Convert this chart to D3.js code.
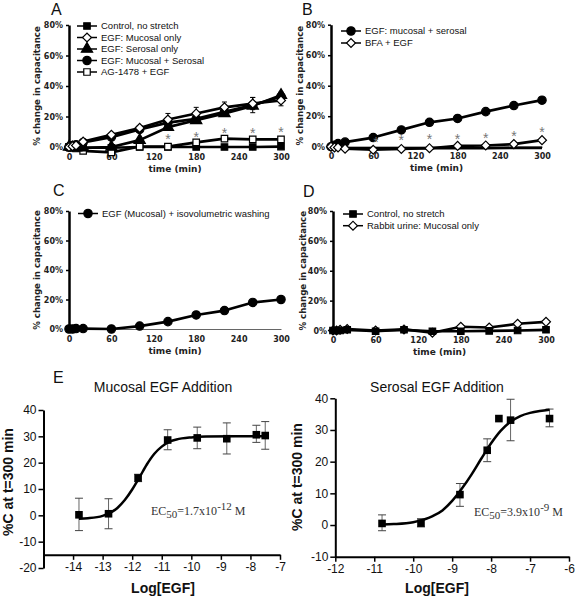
<!DOCTYPE html>
<html>
<head>
<meta charset="utf-8">
<script src="https://cdn.jsdelivr.net/npm/d3@7"></script>
<style>
  body { margin: 0; background: #fff; }
  svg { display: block; }
</style>
</head>
<body>
<script>
// ---------- DATA ----------
const times = [0, 5, 10, 20, 60, 100, 140, 180, 220, 260, 300];
const timeTicks = [0, 60, 120, 180, 240, 300];
const pctTicks = [0, 20, 40, 60, 80];

// Panel A
const aControl   = [0, 0, -0.5, -0.5, -0.5, 0, 0, 0, 0, 0, 0.3];
const aMucosal   = [0, 0.5, 1, 3.5, 8, 12.5, 18, 22, 26, 28.5, 30.5];
const aMucosalErr= [0, 0, 0, 0, 1, 1.5, 4, 4, 3.5, 4, 3.5];
const aSerosal   = [0, -0.5, -0.5, -0.5, 0, 4.5, 13, 17.5, 22, 27, 34];
const aSerosalErr= [0, 0, 0, 0, 0.5, 1, 1, 1, 1, 1.5, 2];
const aBoth      = [0, 1, 1.5, 3, 6.5, 11.5, 16, 18.5, 23, 27.5, 33];
const aBothErr   = [0, 0, 0, 0, 0.5, 1, 1, 1, 1.5, 5, 2];
const aAG        = [0, -0.5, -1, -2.5, -3.5, 0.3, 0.3, 3, 5.5, 5, 5];
const aStarTimes = [140, 180, 220, 260, 300];
const aStarVals  = [7, 8, 10.5, 10.5, 11.5];

// Panel B
const bBoth      = [0, 1, 2, 3, 6, 11, 16, 18.5, 23, 27, 30.5];
const bBothErr   = [0, 0, 0, 0, 1, 1, 1, 1, 1, 1.5, 2];
const bBFA       = [0, -0.5, -0.5, -1.3, -2, -1.5, -1, 0.5, 0.8, 1.7, 4.3];
const bBFAErr    = [0, 0, 0, 0, 0, 0, 0, 0, 0, 0, 1];
const bBase      = [0, -0.5, -0.8, -1, -1, -1, -1, -1, -1, -0.8, -0.8];
const bStarTimes = [64, 100, 140, 180, 220, 260, 300];
const bStarVals  = [4.5, 6, 6.5, 6.5, 7.5, 8.5, 11];

// Panel C
const cWash      = [0, 0, 0.3, 0.3, 0, 2, 5, 9.5, 12.5, 18, 20];
const cWashErr   = [0, 0, 0, 0, 0, 0.5, 0.5, 0.5, 0.8, 1, 1.5];

// Panel D
const dControl   = [0, 0, 0, 0.5, -0.5, 0.5, -0.5, -0.5, -0.3, 0, 0.5];
const dUrine     = [0, 0, 0.5, 1, 0, 0.7, -1.5, 2.5, 2, 4.5, 5.8];
const dUrineErr  = [0, 0, 0, 0, 1.5, 0.5, 0.5, 0.5, 0.5, 0.5, 0.5];

// Panel E (mucosal)
const eMucX   = [-13.8, -12.8, -11.8, -10.8, -9.8, -8.8, -7.8, -7.5];
const eMucY   = [0.2, 0.6, 14.2, 28.6, 29.4, 29.1, 30.6, 30.3];
const eMucLo  = [-5.8, -5.1, 12.8, 24.9, 25.3, 23.3, 27.7, 25.1];
const eMucHi  = [6.5, 6.3, 15.6, 32.5, 33.5, 35.1, 34.2, 35.6];
const eMucFitX = [-13.8, -13.5, -13, -12.5, -12.25, -12, -11.75, -11.5, -11.25, -11, -10.75, -10.5, -10, -9.5, -8.5, -7.5];
const eMucFitY = [-1.3, -1.1, -0.2, 2.8, 5.8, 9.8, 14.5, 19.4, 23.4, 26.1, 27.9, 28.8, 29.6, 29.9, 30, 30];
const eMucXTicks = [-14, -13, -12, -11, -10, -9, -8, -7];
const eMucYTicks = [-20, -10, 0, 10, 20, 30, 40];

// Panel E (serosal)
const eSerX   = [-10.8, -9.8, -8.8, -8.1, -7.8, -7.5, -6.5];
const eSerY   = [0.5, 0.6, 9.6, 23.6, 33.6, 33.1, 33.6];
const eSerLo  = [-1.8, -0.6, 5.9, 20.0, 33.6, 26.6, 31.0];
const eSerHi  = [3.2, 2.0, 13.1, 27.2, 33.6, 39.7, 36.6];
const eSerFitX = [-10.8, -10.5, -10, -9.5, -9.25, -9, -8.75, -8.5, -8.25, -8, -7.75, -7.5, -7.25, -7, -6.75, -6.5];
const eSerFitY = [0.15, 0.3, 0.9, 2.8, 4.6, 7.6, 11.5, 16.0, 21.0, 25.8, 29.8, 32.6, 34.4, 35.4, 36.0, 36.4];
const eSerXTicks = [-12, -11, -10, -9, -8, -7, -6];
const eSerYTicks = [-10, 0, 10, 20, 30, 40];

// ---------- DRAWING ----------
const svg = d3.select("body").append("svg").attr("width", 576).attr("height", 596);
const SANS = "'Liberation Sans', Arial, sans-serif";
const DJV = "'DejaVu Sans', Verdana, sans-serif";

function marker(g, type, cx, cy) {
  let sym, size, rot = 0, fill = "#000";
  if (type === "square") { sym = d3.symbolSquare; size = 42; }
  else if (type === "osquare") { sym = d3.symbolSquare; size = 42; fill = "#fff"; }
  else if (type === "circle") { sym = d3.symbolCircle; size = 55; }
  else if (type === "triangle") { sym = d3.symbolTriangle; size = 55; }
  else if (type === "diamond") { sym = d3.symbolSquare; size = 40; rot = 45; fill = "#fff"; }
  g.append("path")
    .attr("d", d3.symbol().type(sym).size(size)())
    .attr("transform", `translate(${cx},${cy}) rotate(${rot})`)
    .attr("fill", fill).attr("stroke", "#000").attr("stroke-width", 1.2);
}

function letter(txt, x, y) {
  svg.append("text").attr("x", x).attr("y", y).text(txt)
    .attr("font-family", SANS).attr("font-size", 16).attr("fill", "#111");
}

function timePanel(cfg) {
  const x = d3.scaleLinear().domain([0, 300]).range(cfg.xr);
  const y = d3.scaleLinear().domain([0, 80]).range(cfg.yr);
  const g = svg.append("g");

  // x axis
  const xa = g.append("g").attr("transform", `translate(0,${y(0)})`)
    .call(d3.axisBottom(x).tickValues(timeTicks).tickSize(0).tickSizeOuter(0).tickPadding(7));
  xa.select(".domain").attr("stroke", cfg.xAxisColor || "#666").attr("stroke-width", cfg.xAxisW || 1);
  xa.selectAll("text").attr("font-family", DJV).attr("font-weight", "bold").attr("font-size", 8).attr("fill", "#222");
  g.append("text").attr("x", (x(0) + x(300)) / 2).attr("y", y(0) + 24.5)
    .attr("text-anchor", "middle").attr("font-family", DJV).attr("font-weight", "bold")
    .attr("font-size", 9).attr("fill", "#222").text("time (min)");

  // y axis
  const ya = g.append("g").attr("transform", `translate(${x(0)},0)`)
    .call(d3.axisLeft(y).tickValues(pctTicks).tickFormat(d => d + "%").tickSize(3).tickSizeOuter(0).tickPadding(3));
  ya.select(".domain").attr("stroke", "#000").attr("stroke-width", 2.5);
  ya.selectAll(".tick line").attr("stroke", "#000").attr("stroke-width", 1.5);
  ya.selectAll("text").attr("font-family", DJV).attr("font-weight", "bold").attr("font-size", 8).attr("fill", "#222");
  g.append("text")
    .attr("transform", `translate(${cfg.ylabX},${(y(0) + y(80)) / 2}) rotate(-90)`)
    .attr("text-anchor", "middle").attr("font-family", DJV).attr("font-weight", "bold")
    .attr("font-size", 8.6).attr("fill", "#222").text("% change in capacitance");

  const line = d3.line().x((d, i) => x(times[i])).y(d => y(d));
  cfg.series.forEach(s => {
    const sg = g.append("g");
    sg.append("path").attr("d", line(s.values)).attr("fill", "none")
      .attr("stroke", "#000").attr("stroke-width", s.lw || 2.7).attr("stroke-linejoin", "round");
    if (s.err) {
      s.values.forEach((v, i) => {
        const e = s.err[i];
        if (!e) return;
        const cx = x(times[i]);
        sg.append("line").attr("x1", cx).attr("x2", cx).attr("y1", y(v - e)).attr("y2", y(v + e))
          .attr("stroke", "#000").attr("stroke-width", 1);
        [v - e, v + e].forEach(w => sg.append("line").attr("x1", cx - 2.5).attr("x2", cx + 2.5)
          .attr("y1", y(w)).attr("y2", y(w)).attr("stroke", "#000").attr("stroke-width", 1));
      });
    }
    if (s.marker) s.values.forEach((v, i) => marker(sg, s.marker, x(times[i]), y(v)));
  });

  if (cfg.stars) {
    cfg.stars.t.forEach((t, i) => {
      g.append("text").attr("x", x(t)).attr("y", y(cfg.stars.v[i]) + 7.5)
        .attr("text-anchor", "middle").attr("font-family", SANS).attr("font-size", 14)
        .attr("fill", "#777").text("*");
    });
  }

  // legend
  cfg.legend.items.forEach((it, i) => {
    const ly = cfg.legend.y + i * cfg.legend.dy;
    const lx = cfg.legend.x;
    g.append("line").attr("x1", lx).attr("x2", lx + 20).attr("y1", ly).attr("y2", ly)
      .attr("stroke", "#000").attr("stroke-width", 1.5);
    marker(g, it.marker, lx + 10, ly);
    g.append("text").attr("x", lx + 24).attr("y", ly).attr("dy", "0.35em")
      .attr("font-family", SANS).attr("font-size", 9.5).attr("fill", "#111").text(it.label);
  });
}

// Panel A
letter("A", 51, 15);
timePanel({
  xr: [69, 281], yr: [147, 25], ylabX: 40,
  series: [
    { values: aControl, marker: "square" },
    { values: aAG, marker: "osquare" },
    { values: aSerosal, marker: "triangle", err: aSerosalErr },
    { values: aBoth, marker: "circle", err: aBothErr },
    { values: aMucosal, marker: "diamond", err: aMucosalErr }
  ],
  stars: { t: aStarTimes, v: aStarVals },
  legend: { x: 77, y: 26, dy: 11.5, items: [
    { marker: "square", label: "Control, no stretch" },
    { marker: "diamond", label: "EGF: Mucosal only" },
    { marker: "triangle", label: "EGF: Serosal only" },
    { marker: "circle", label: "EGF: Mucosal + Serosal" },
    { marker: "osquare", label: "AG-1478 + EGF" }
  ] }
});

// Panel B
letter("B", 302, 15);
timePanel({
  xr: [331, 542], yr: [146.7, 24.7], ylabX: 303, xAxisColor: "#000", xAxisW: 1,
  series: [
    { values: bBase, lw: 2.7 },
    { values: bBoth, marker: "circle", err: bBothErr },
    { values: bBFA, marker: "diamond", err: bBFAErr }
  ],
  stars: { t: bStarTimes, v: bStarVals },
  legend: { x: 341, y: 31, dy: 12, items: [
    { marker: "circle", label: "EGF: mucosal + serosal" },
    { marker: "diamond", label: "BFA + EGF" }
  ] }
});

// Panel C
letter("C", 53, 196);
timePanel({
  xr: [69, 281], yr: [329, 211], ylabX: 40,
  series: [ { values: cWash, marker: "circle", err: cWashErr } ],
  legend: { x: 78, y: 213.5, dy: 12, items: [
    { marker: "circle", label: "EGF (Mucosal) + isovolumetric washing" }
  ] }
});

// Panel D
letter("D", 303, 196.5);
timePanel({
  xr: [333, 546], yr: [330.5, 211], ylabX: 306,
  series: [
    { values: dUrine, marker: "diamond", err: dUrineErr },
    { values: dControl, marker: "square" }
  ],
  legend: { x: 343, y: 214, dy: 11.7, items: [
    { marker: "square", label: "Control, no stretch" },
    { marker: "diamond", label: "Rabbit urine: Mucosal only" }
  ] }
});

// Panel E
letter("E", 53, 383);

function dosePanel(cfg) {
  const x = d3.scaleLinear().domain(cfg.xd).range(cfg.xr);
  const y = d3.scaleLinear().domain(cfg.yd).range(cfg.yr);
  const g = svg.append("g");
  const fmt = d => String(d);

  const xa = g.append("g").attr("transform", `translate(0,${y(cfg.xAxisAt)})`)
    .call(d3.axisBottom(x).tickValues(cfg.xTicks).tickFormat(fmt).tickSize(5).tickSizeOuter(0).tickPadding(3));
  xa.select(".domain").attr("stroke", "#000").attr("stroke-width", 2);
  xa.selectAll(".tick line").attr("stroke", "#000").attr("stroke-width", 1.5);
  xa.selectAll("text").attr("font-family", SANS).attr("font-size", 12).attr("fill", "#111");

  const ya = g.append("g").attr("transform", `translate(${x(cfg.xd[0])},0)`)
    .call(d3.axisLeft(y).tickValues(cfg.yTicks).tickFormat(fmt).tickSize(5).tickSizeOuter(0).tickPadding(2));
  ya.select(".domain").attr("stroke", "#000").attr("stroke-width", 2);
  ya.selectAll(".tick line").attr("stroke", "#000").attr("stroke-width", 1.5);
  ya.selectAll("text").attr("font-family", SANS).attr("font-size", 12).attr("fill", "#111");

  g.append("text").attr("x", cfg.titleX).attr("y", 392).attr("text-anchor", "middle")
    .attr("font-family", SANS).attr("font-size", 14).attr("fill", "#111").text(cfg.title);
  g.append("text").attr("x", cfg.titleX).attr("y", 593).attr("text-anchor", "middle")
    .attr("font-family", SANS).attr("font-weight", "bold").attr("font-size", 14).attr("fill", "#111").text("Log[EGF]");
  g.append("text").attr("transform", `translate(${cfg.ylabX},${cfg.ylabY}) rotate(-90)`)
    .attr("text-anchor", "middle").attr("font-family", SANS).attr("font-weight", "bold")
    .attr("font-size", 14).attr("fill", "#111").text("%C at t=300 min");

  // error bars
  cfg.px.forEach((xv, i) => {
    if (cfg.hi[i] === cfg.lo[i]) return;
    const cx = x(xv);
    g.append("line").attr("x1", cx).attr("x2", cx).attr("y1", y(cfg.lo[i])).attr("y2", y(cfg.hi[i]))
      .attr("stroke", "#666").attr("stroke-width", 1);
    [cfg.lo[i], cfg.hi[i]].forEach(w => g.append("line").attr("x1", cx - 4).attr("x2", cx + 4)
      .attr("y1", y(w)).attr("y2", y(w)).attr("stroke", "#444").attr("stroke-width", 1));
  });
  // fit curve
  const line = d3.line().x((d, i) => x(cfg.fx[i])).y(d => y(d)).curve(d3.curveMonotoneX);
  g.append("path").attr("d", line(cfg.fy)).attr("fill", "none").attr("stroke", "#000").attr("stroke-width", 2.5);
  // points
  cfg.px.forEach((xv, i) => {
    g.append("rect").attr("x", x(xv) - 3.8).attr("y", y(cfg.py[i]) - 3.8)
      .attr("width", 7.6).attr("height", 7.6).attr("fill", "#000");
  });
  // EC50 label
  const t = g.append("text").attr("x", cfg.ecX).attr("y", cfg.ecY)
    .attr("font-family", "'Liberation Serif', 'Times New Roman', serif").attr("font-size", 12).attr("fill", "#333");
  t.append("tspan").text("EC");
  t.append("tspan").attr("dy", 3).attr("font-size", 11).text("50");
  t.append("tspan").attr("dy", -3).text("=" + cfg.ecMant + "x10");
  t.append("tspan").attr("dy", -5).attr("font-size", 11).text(cfg.ecExp);
  t.append("tspan").attr("dy", 5).text(" M");
}

dosePanel({
  xd: [-15, -7], xr: [43.5, 280], yd: [-20, 40], yr: [568, 410], xAxisAt: -15,
  xTicks: eMucXTicks, yTicks: eMucYTicks,
  title: "Mucosal EGF Addition", titleX: 163, ylabX: 13, ylabY: 482,
  px: eMucX, py: eMucY, lo: eMucLo, hi: eMucHi, fx: eMucFitX, fy: eMucFitY,
  ecX: 151, ecY: 515, ecMant: "1.7", ecExp: "-12"
});

dosePanel({
  xd: [-12, -6], xr: [335.3, 569], yd: [-10, 40], yr: [556.7, 398.3], xAxisAt: -10,
  xTicks: eSerXTicks, yTicks: eSerYTicks,
  title: "Serosal EGF Addition", titleX: 437, ylabX: 302, ylabY: 477,
  px: eSerX, py: eSerY, lo: eSerLo, hi: eSerHi, fx: eSerFitX, fy: eSerFitY,
  ecX: 474, ecY: 515.5, ecMant: "3.9", ecExp: "-9"
});
</script>
</body>
</html>
